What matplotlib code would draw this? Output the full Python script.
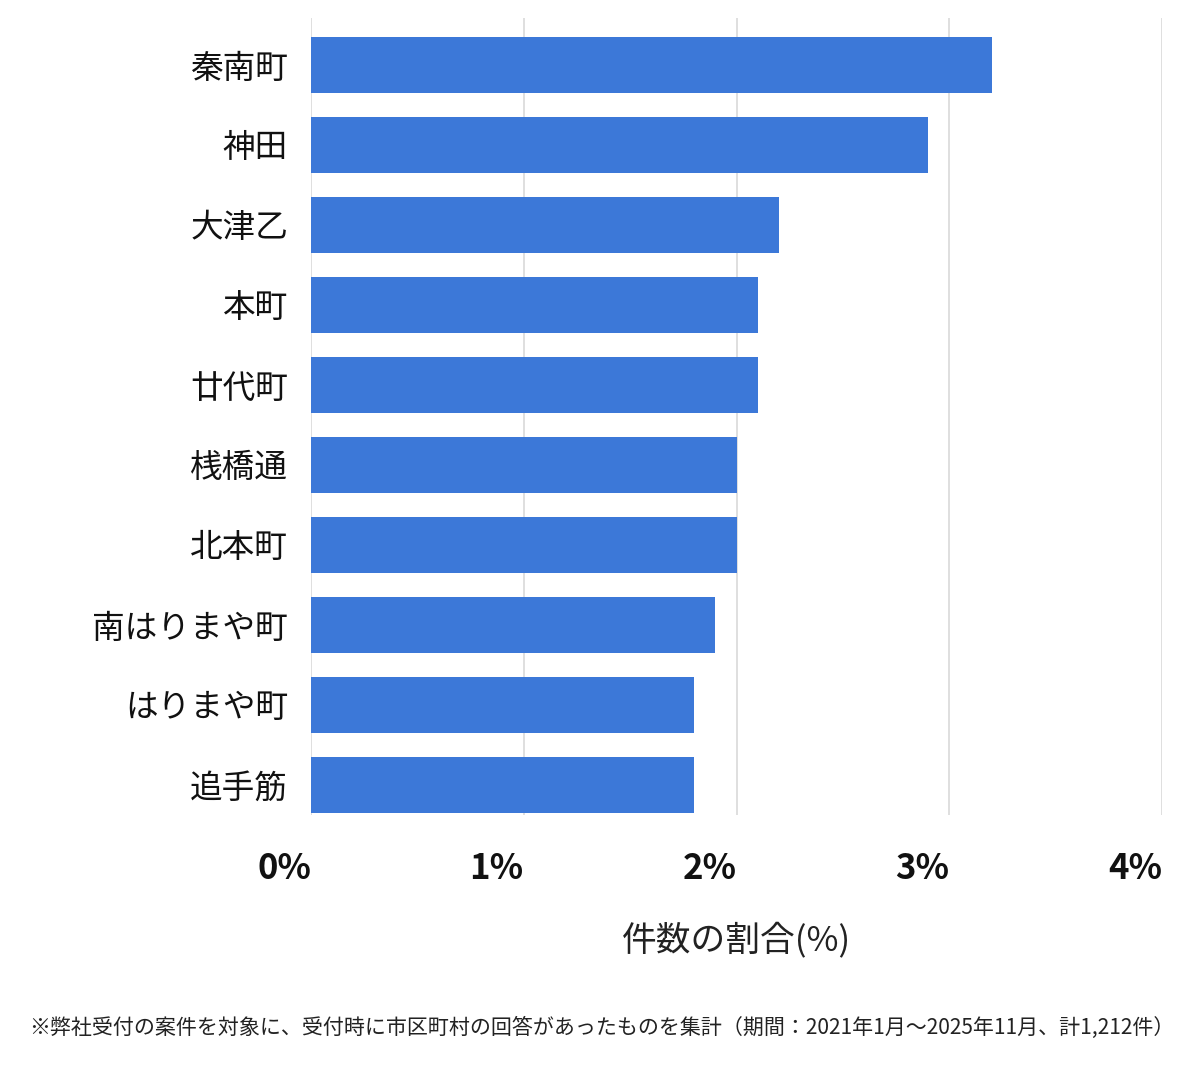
import matplotlib
matplotlib.use("Agg")
import matplotlib.pyplot as plt

plt.rcParams['font.family'] = ['Noto Sans CJK JP', 'DejaVu Sans']

# data
areas = ['秦南町', '神田', '大津乙', '本町', '廿代町', '桟橋通', '北本町',
         '南はりまや町', 'はりまや町', '追手筋']
shares = [3.20, 2.90, 2.20, 2.10, 2.10, 2.00, 2.00, 1.90, 1.80, 1.80]
ticks = [0, 1, 2, 3, 4]
tick_labels = ['0%', '1%', '2%', '3%', '4%']
xlabel = '件数の割合(%)'
note = '※弊社受付の案件を対象に、受付時に市区町村の回答があったものを集計（期間：2021年1月～2025年11月、計1,212件）'

W, H = 1200, 1069
fig = plt.figure(figsize=(W / 100, H / 100), dpi=100)
ax = fig.add_axes([311 / W, 1 - 815 / H, (1162 - 311) / W, (815 - 18) / H])

ypos = list(range(len(areas)))
ax.barh(ypos, shares, height=0.7, color='#3c78d8', zorder=3)

ax.set_xlim(0, 4)
ax.set_ylim(9 + 30 / 80, -(65 - 18) / 80)
ax.set_yticks(ypos)
ax.set_yticklabels(areas, fontsize=23.5, color='#111111')
ax.tick_params(axis='y', length=0, pad=16.5)

ax.set_xticks(ticks)
ax.set_xticklabels(tick_labels, fontsize=25, fontweight='bold', ha='right',
                   color='#111111')
ax.tick_params(axis='x', length=0, pad=26)

ax.grid(axis='x', color='#d9d9d9', linewidth=1.2, zorder=0)
for s in ax.spines.values():
    s.set_visible(False)

ax.set_xlabel(xlabel, fontsize=25, color='#222222', labelpad=26)

fig.text(602 / W, 1 - 1028 / H, note, fontsize=15.1, ha='center', va='center',
         color='#222222')

fig.savefig('out.png', dpi=100)
